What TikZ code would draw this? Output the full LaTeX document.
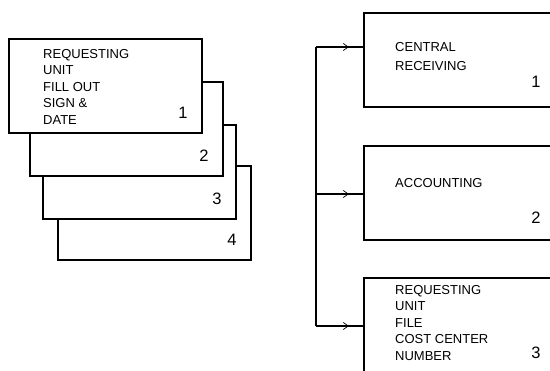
\documentclass[tikz,border=0pt]{standalone}
\usepackage{fontspec}
\setmainfont{Liberation Sans}
\usetikzlibrary{arrows.meta,decorations.markings}
\begin{document}
\begin{tikzpicture}[x=1pt,y=-1pt,
  formbox/.style={draw,fill=white,line width=2pt,minimum width=193pt,minimum height=94pt,inner sep=0pt,anchor=north west},
  boxtext/.style={font=\fontsize{13}{16.5}\selectfont,align=left,anchor=north west,inner sep=0pt},
  copyno/.style={font=\fontsize{16.5}{18}\selectfont,inner sep=0pt},
  feed/.style={line width=2pt,postaction={decorate},decoration={markings,
    mark=at position 0.7 with {\arrow[line width=0.7pt]{Straight Barb[length=5pt,width=7pt]}}}}]
\useasboundingbox (0,0) rectangle (550,371);
% stacked copies
\node[formbox] (c4) at (57,165) {};
\node[formbox] (c3) at (42,124) {};
\node[formbox] (c2) at (29,81) {};
\node[formbox] (c1) at (8,38) {};
\node[boxtext] (c1txt) at (43,49) {REQUESTING\\UNIT\\FILL OUT\\SIGN \&\\DATE};
\node[copyno] (c1no) at ([xshift=-20pt,yshift=21pt]c1.south east) {1};
\node[copyno] (c2no) at ([xshift=-20pt,yshift=21pt]c2.south east) {2};
\node[copyno] (c3no) at ([xshift=-20pt,yshift=21pt]c3.south east) {3};
\node[copyno] (c4no) at ([xshift=-20pt,yshift=21pt]c4.south east) {4};
% distribution
\node[formbox] (r1) at (363,12) {};
\node[formbox] (r2) at (363,145) {};
\node[formbox,minimum height=97pt] (r3) at (363,277) {};
\node[boxtext,font=\fontsize{13}{19}\selectfont] (r1txt) at (395,42.5) {CENTRAL\\RECEIVING};
\node[boxtext] (r2txt) at (395,178) {ACCOUNTING};
\node[boxtext] (r3txt) at (395,285) {REQUESTING\\UNIT\\FILE\\COST CENTER\\NUMBER};
\node[copyno] (r1no) at (536,82) {1};
\node[copyno] (r2no) at (536,218) {2};
\node[copyno] (r3no) at (536,353) {3};
\coordinate (t1) at (316,47);
\coordinate (t2) at (316,194);
\coordinate (t3) at (316,326);
\draw[line width=2pt] (t1) -- (t3);
\draw[feed] (t1) -- (t1 -| r1.west);
\draw[feed] (t2) -- (t2 -| r2.west);
\draw[feed] (t3) -- (t3 -| r3.west);
\end{tikzpicture}
\end{document}
